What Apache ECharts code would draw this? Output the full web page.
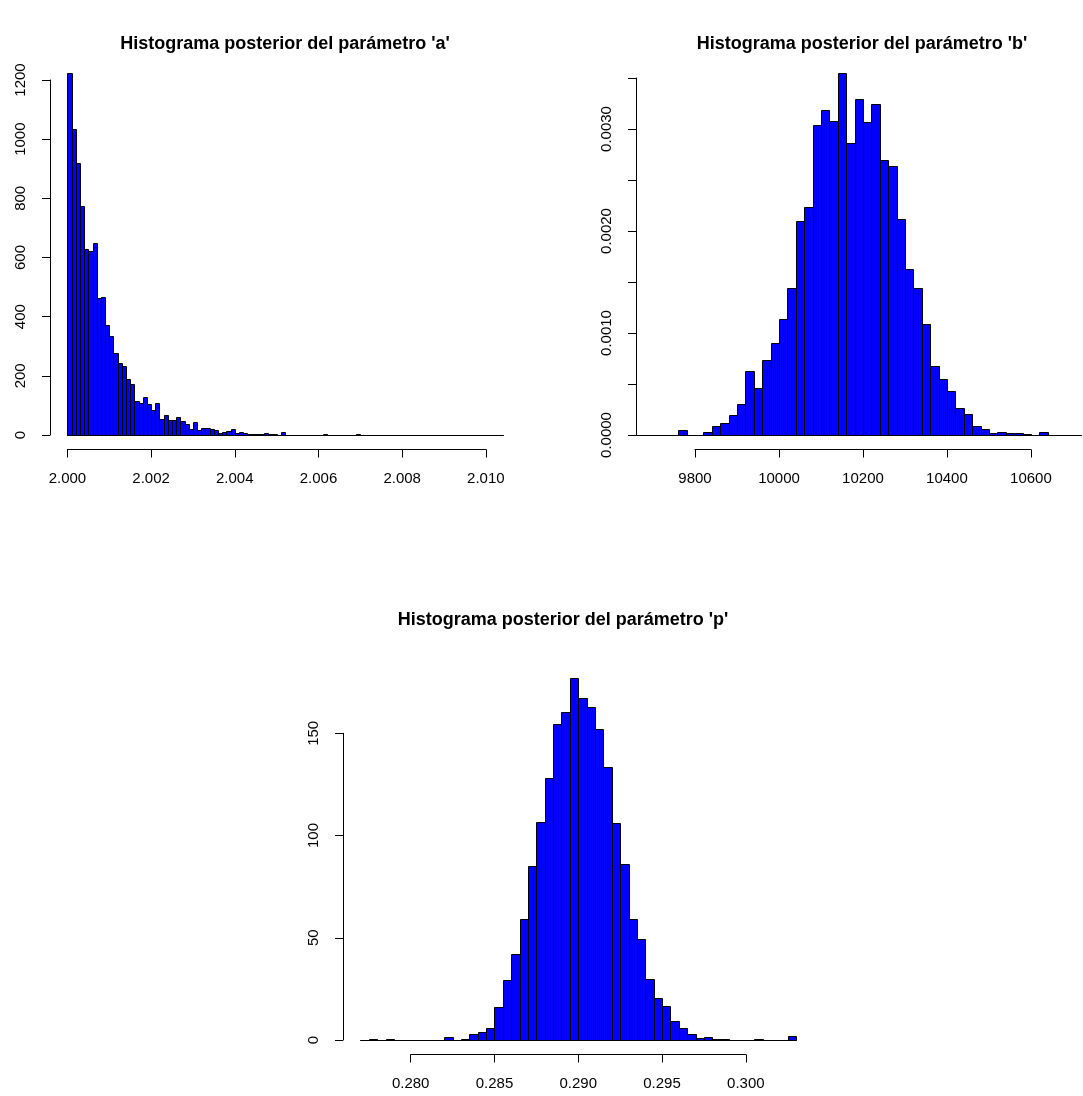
<!DOCTYPE html>
<html>
<head>
<meta charset="utf-8" />
<title>Histogramas posteriores</title>
<script src="https://cdn.jsdelivr.net/npm/echarts@6.0.0/dist/echarts.min.js"></script>
<style>
    html, body { margin: 0; padding: 0; background: #ffffff; }
    #main { width: 1083px; height: 1096px; }
</style>
</head>
<body>
<div id="main"></div>
<script type="text/javascript">
// parametro 'a': frecuencias, clases de 0.0001 desde 2.0000
var aStart = 2.0;
var aWidth = 0.0001;
var aCounts = [1225, 1035, 918, 775, 628, 622, 648, 463, 465, 371,
    335, 277, 245, 233, 188, 174, 114, 109, 128, 106,
    86, 108, 53, 68, 51, 51, 60, 46, 36, 21,
    43, 18, 24, 25, 21, 16, 8, 11, 15, 20,
    7, 11, 7, 3, 2, 2, 3, 7, 3, 2,
    1, 9, 1, 1, 1, 1, 1, 0, 0, 0,
    0, 3, 0, 0, 0, 0, 0, 1, 0, 2,
    0, 0, 0, 0, 0, 0, 1, 0, 0, 0,
    0, 0, 0, 0, 0, 0, 0, 0, 0, 0,
    1, 0, 0, 0, 0, 0, 0, 0, 0, 0,
    0, 0, 0, 0];
var aXTicks = [2.000, 2.002, 2.004, 2.006, 2.008, 2.010];
var aYTicks = [0, 200, 400, 600, 800, 1000, 1200];

// parametro 'b': densidad, clases de 20 desde 9660
var bStart = 9660;
var bWidth = 20;
var bDensity = [0.000003, 0.000003, 0, 0, 0, 0.000049, 0, 0, 0.000025, 0.000088,
    0.00012, 0.0002, 0.000302, 0.000624, 0.000464, 0.000732, 0.000902, 0.001141, 0.001438, 0.002101,
    0.002239, 0.003039, 0.003186, 0.003082, 0.003552, 0.002863, 0.003291, 0.003072, 0.003242, 0.002698,
    0.002639, 0.002114, 0.001627, 0.001438, 0.001085, 0.00068, 0.000546, 0.000435, 0.000261, 0.000209,
    0.000092, 0.000062, 0.000023, 0.000033, 0.000016, 0.000016, 0.00001, 0.000003, 0.000026, 0.000003,
    0, 0, 0];
var bXTicks = [9800, 10000, 10200, 10400, 10600];
var bYTicks = [0, 0.0005, 0.001, 0.0015, 0.002, 0.0025, 0.003, 0.0035];
var bYLabels = [0, 0.001, 0.002, 0.003];

// parametro 'p': densidad, clases de 0.0005 desde 0.2770
var pStart = 0.277;
var pWidth = 0.0005;
var pDensity = [0, 0.3, 0, 0.5, 0, 0, 0, 0, 0, 0,
    1.6, 0, 0.65, 2.9, 3.75, 6.0, 16.3, 29.3, 42.1, 59.2,
    85.1, 106.6, 128.3, 154.6, 160.6, 177.2, 167.5, 162.9, 152.0, 133.4,
    106.3, 86.1, 59.2, 49.6, 29.8, 20.4, 16.5, 9.3, 5.7, 2.8,
    0.8, 1.5, 0.3, 0.3, 0, 0, 0, 0.5, 0, 0,
    0, 2.0];
var pXTicks = [0.280, 0.285, 0.290, 0.295, 0.300];
var pYTicks = [0, 50, 100, 150];

var titles = ["Histograma posterior del parámetro 'a'",
    "Histograma posterior del parámetro 'b'",
    "Histograma posterior del parámetro 'p'"];

var FONT = 'Liberation Sans, Arial, Helvetica, sans-serif';

function bins(start, width, values) {
    return values.map(function (v, i) {
        return [+(start + i * width).toFixed(6), +(start + (i + 1) * width).toFixed(6), v];
    });
}

function histItem(params, api) {
    var a = api.coord([api.value(0), api.value(2)]);
    var b = api.coord([api.value(1), 0]);
    var x0 = Math.round(a[0]) + 0.5, x1 = Math.round(b[0]) + 0.5;
    var y0 = Math.round(a[1]) + 0.5, y1 = Math.round(b[1]) + 0.5;
    return {
        type: 'group',
        children: [
            { type: 'rect', shape: { x: x0, y: y0, width: x1 - x0, height: y1 - y0 },
              style: { fill: '#0000ff', stroke: '#000000', lineWidth: 1 } },
            { type: 'line', shape: { x1: x0, y1: y1, x2: x1, y2: y1 },
              style: { stroke: '#000000', lineWidth: 1 } }
        ]
    };
}

var panels = [
    { data: bins(aStart, aWidth, aCounts), xTicks: aXTicks, yTicks: aYTicks, yLabels: aYTicks,
      xmin: 1.999584, xmax: 2.010816, left: 50, right: 520, top: 80, bottom: 435,
      titleX: 285, titleY: 44,
      xFmt: function (v) { return v.toFixed(3); }, yFmt: function (v) { return String(Math.round(v)); } },
    { data: bins(bStart, bWidth, bDensity), xTicks: bXTicks, yTicks: bYTicks, yLabels: bYLabels,
      xmin: 9659.5, xmax: 10724, left: 636, right: 1083, top: 78, bottom: 435,
      titleX: 862, titleY: 44,
      xFmt: function (v) { return String(Math.round(v)); }, yFmt: function (v) { return v.toFixed(4); } },
    { data: bins(pStart, pWidth, pDensity), xTicks: pXTicks, yTicks: pYTicks, yLabels: pYTicks,
      xmin: 0.27596, xmax: 0.30404, left: 343, right: 813.5, top: 733.3, bottom: 1040,
      titleX: 563, titleY: 620,
      xFmt: function (v) { return v.toFixed(3); }, yFmt: function (v) { return String(Math.round(v)); } }
];

var option = { animation: false, backgroundColor: '#ffffff', grid: [], xAxis: [], yAxis: [], series: [], graphic: [] };

panels.forEach(function (p, i) {
    var w = p.right - p.left;
    var px = function (v) { return p.left + (v - p.xmin) / (p.xmax - p.xmin) * w; };
    var ax0 = px(p.xTicks[0]);
    var ax1 = px(p.xTicks[p.xTicks.length - 1]);
    var g = option.grid.length;

    // grid de las barras
    option.grid.push({ left: p.left, top: p.top, width: w, height: p.bottom - p.top, outerBoundsMode: 'none' });
    // grid solo para el eje x (como en R, separado de la base)
    option.grid.push({ left: ax0, top: p.top, width: ax1 - ax0, height: p.bottom - p.top, outerBoundsMode: 'none' });

    option.xAxis.push({ gridIndex: g, type: 'value', min: p.xmin, max: p.xmax, show: false });
    option.yAxis.push({
        gridIndex: g, type: 'value', min: 0, max: p.yTicks[p.yTicks.length - 1],
        axisLine: { show: true, onZero: false, lineStyle: { color: '#000', width: 1 } },
        axisTick: { show: true, length: 8, customValues: p.yTicks, lineStyle: { color: '#000' } },
        axisLabel: { customValues: p.yLabels, rotate: 90, margin: 22, formatter: p.yFmt,
                     color: '#000', fontFamily: FONT, fontSize: 15 },
        splitLine: { show: false }
    });

    option.xAxis.push({
        gridIndex: g + 1, type: 'value', min: p.xTicks[0], max: p.xTicks[p.xTicks.length - 1],
        position: 'bottom', offset: 14.5,
        axisLine: { show: true, onZero: false, lineStyle: { color: '#000', width: 1 } },
        axisTick: { show: true, length: 8, customValues: p.xTicks, lineStyle: { color: '#000' } },
        axisLabel: { customValues: p.xTicks, margin: 22, formatter: p.xFmt,
                     color: '#000', fontFamily: FONT, fontSize: 15 },
        splitLine: { show: false }
    });
    option.yAxis.push({ gridIndex: g + 1, type: 'value', min: 0, max: 1, show: false });

    option.series.push({
        type: 'custom', xAxisIndex: g, yAxisIndex: g, clip: false,
        renderItem: histItem, encode: { x: [0, 1], y: 2 }, data: p.data
    });

    option.graphic.push({
        type: 'text', x: p.titleX, y: p.titleY,
        style: { text: titles[i], align: 'center', verticalAlign: 'middle',
                 fill: '#000', font: 'bold 18px ' + FONT }
    });
});

var myChart = echarts.init(document.getElementById('main'));
myChart.setOption(option);
</script>
</body>
</html>
